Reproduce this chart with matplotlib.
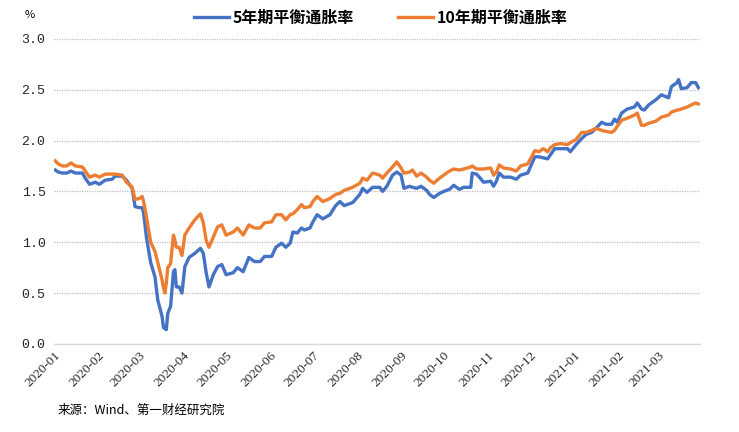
import pandas as pd
import matplotlib.pyplot as plt
import matplotlib.dates as mdates

plt.rcParams['font.family'] = ['Noto Sans CJK SC', 'DejaVu Sans']
plt.rcParams['axes.unicode_minus'] = False

# =========================
# 数据
# =========================
dates = [
    "2020-01-02", "2020-01-04", "2020-01-07", "2020-01-10", "2020-01-13", "2020-01-16",
    "2020-01-21", "2020-01-23", "2020-01-26", "2020-01-30", "2020-02-02", "2020-02-06",
    "2020-02-11", "2020-02-13", "2020-02-18", "2020-02-21", "2020-02-25", "2020-02-27",
    "2020-03-01", "2020-03-03", "2020-03-04", "2020-03-06", "2020-03-09", "2020-03-12",
    "2020-03-14", "2020-03-17", "2020-03-18", "2020-03-19", "2020-03-20", "2020-03-21",
    "2020-03-23", "2020-03-25", "2020-03-26", "2020-03-27", "2020-03-29", "2020-03-31",
    "2020-04-02", "2020-04-05", "2020-04-09", "2020-04-13", "2020-04-15", "2020-04-17",
    "2020-04-19", "2020-04-22", "2020-04-25", "2020-04-28", "2020-05-01", "2020-05-06",
    "2020-05-09", "2020-05-13", "2020-05-17", "2020-05-21", "2020-05-25", "2020-05-28",
    "2020-06-02", "2020-06-05", "2020-06-09", "2020-06-12", "2020-06-15", "2020-06-17",
    "2020-06-20", "2020-06-23", "2020-06-25", "2020-06-29", "2020-07-01", "2020-07-04",
    "2020-07-08", "2020-07-13", "2020-07-17", "2020-07-20", "2020-07-23", "2020-07-29",
    "2020-08-03", "2020-08-05", "2020-08-08", "2020-08-12", "2020-08-17", "2020-08-19",
    "2020-08-22", "2020-08-26", "2020-08-29", "2020-09-01", "2020-09-03", "2020-09-07",
    "2020-09-09", "2020-09-12", "2020-09-15", "2020-09-19", "2020-09-21", "2020-09-24",
    "2020-09-28", "2020-10-01", "2020-10-05", "2020-10-08", "2020-10-12", "2020-10-15",
    "2020-10-20", "2020-10-21", "2020-10-24", "2020-10-26", "2020-10-29", "2020-11-03",
    "2020-11-05", "2020-11-07", "2020-11-09", "2020-11-12", "2020-11-17", "2020-11-21",
    "2020-11-24", "2020-11-29", "2020-12-04", "2020-12-07", "2020-12-10", "2020-12-13",
    "2020-12-15", "2020-12-18", "2020-12-22", "2020-12-27", "2020-12-29", "2021-01-02",
    "2021-01-06", "2021-01-09", "2021-01-13", "2021-01-16", "2021-01-20", "2021-01-23",
    "2021-01-27", "2021-01-29", "2021-01-31", "2021-02-03", "2021-02-07", "2021-02-12",
    "2021-02-14", "2021-02-17", "2021-02-19", "2021-02-22", "2021-02-27", "2021-03-03",
    "2021-03-08", "2021-03-10", "2021-03-14", "2021-03-15", "2021-03-17", "2021-03-21",
    "2021-03-24", "2021-03-27", "2021-03-29",
]

inf_5y = [
    1.71, 1.69, 1.68, 1.68, 1.70, 1.68, 1.68, 1.63, 1.57, 1.59, 1.57, 1.61,
    1.62, 1.65, 1.65, 1.61, 1.53, 1.35, 1.34, 1.34, 1.29, 1.05, 0.80, 0.66,
    0.43, 0.27, 0.16, 0.15, 0.14, 0.30, 0.37, 0.71, 0.73, 0.56, 0.56, 0.50,
    0.76, 0.85, 0.89, 0.94, 0.89, 0.70, 0.56, 0.68, 0.76, 0.78, 0.68, 0.70,
    0.75, 0.71, 0.85, 0.81, 0.81, 0.86, 0.86, 0.95, 0.99, 0.95, 0.99, 1.10,
    1.09, 1.14, 1.12, 1.14, 1.20, 1.27, 1.23, 1.27, 1.36, 1.40, 1.36, 1.39,
    1.47, 1.53, 1.49, 1.54, 1.54, 1.50, 1.55, 1.66, 1.69, 1.66, 1.53, 1.55,
    1.54, 1.53, 1.55, 1.51, 1.47, 1.44, 1.48, 1.50, 1.52, 1.56, 1.52, 1.54,
    1.54, 1.68, 1.67, 1.64, 1.59, 1.60, 1.55, 1.60, 1.68, 1.64, 1.64, 1.62,
    1.66, 1.68, 1.84, 1.84, 1.83, 1.82, 1.86, 1.92, 1.92, 1.92, 1.89, 1.96,
    2.02, 2.06, 2.08, 2.12, 2.18, 2.16, 2.16, 2.21, 2.18, 2.27, 2.31, 2.33,
    2.37, 2.31, 2.30, 2.35, 2.40, 2.45, 2.42, 2.53, 2.57, 2.60, 2.51, 2.52,
    2.57, 2.57, 2.52,
]

inf_10y = [
    1.80, 1.77, 1.75, 1.75, 1.78, 1.75, 1.74, 1.70, 1.64, 1.66, 1.64, 1.67,
    1.67, 1.67, 1.66, 1.59, 1.54, 1.42, 1.43, 1.45, 1.40, 1.25, 1.00, 0.91,
    0.80, 0.63, 0.55, 0.50, 0.60, 0.75, 0.79, 1.07, 1.02, 0.95, 0.95, 0.87,
    1.07, 1.14, 1.22, 1.28, 1.19, 1.02, 0.95, 1.05, 1.15, 1.17, 1.07, 1.10,
    1.14, 1.07, 1.17, 1.14, 1.14, 1.19, 1.20, 1.27, 1.27, 1.22, 1.27, 1.28,
    1.32, 1.37, 1.34, 1.35, 1.40, 1.45, 1.40, 1.43, 1.47, 1.48, 1.51, 1.54,
    1.58, 1.63, 1.61, 1.68, 1.66, 1.63, 1.68, 1.74, 1.79, 1.73, 1.68, 1.69,
    1.71, 1.65, 1.68, 1.64, 1.61, 1.58, 1.63, 1.66, 1.70, 1.72, 1.71, 1.72,
    1.74, 1.75, 1.72, 1.72, 1.72, 1.73, 1.66, 1.69, 1.76, 1.73, 1.72, 1.70,
    1.75, 1.77, 1.90, 1.89, 1.92, 1.89, 1.93, 1.96, 1.97, 1.96, 1.98, 2.01,
    2.08, 2.08, 2.10, 2.12, 2.10, 2.09, 2.08, 2.10, 2.14, 2.20, 2.22, 2.25,
    2.27, 2.15, 2.15, 2.17, 2.19, 2.23, 2.25, 2.28, 2.30, 2.30, 2.31, 2.33,
    2.35, 2.37, 2.36,
]

label_5y = "5年期平衡通胀率"
label_10y = "10年期平衡通胀率"
source = "来源：Wind、第一财经研究院"
y_ticks = [0.0, 0.5, 1.0, 1.5, 2.0, 2.5, 3.0]

df = pd.DataFrame({"date": pd.to_datetime(dates), "y5": inf_5y, "y10": inf_10y})

# =========================
# 画图
# =========================
fig = plt.figure(figsize=(7.39, 4.32), dpi=100)
ax = fig.add_axes([0.073, 0.204, 0.874, 0.706])

ax.plot(df["date"], df["y5"], color="#4472C4", lw=2.4, label=label_5y, zorder=3)
ax.plot(df["date"], df["y10"], color="#ED7D31", lw=2.4, label=label_10y, zorder=3)

ax.set_ylim(0, 3.0)
ax.set_yticks(y_ticks)
ax.set_yticklabels([f"{v:.1f}" for v in y_ticks], family=["Liberation Mono", "DejaVu Sans Mono"], fontsize=9.5)
ax.set_xlim(pd.Timestamp("2020-01-01"), pd.Timestamp("2021-03-30"))
ax.xaxis.set_major_locator(mdates.MonthLocator())
ax.xaxis.set_major_formatter(mdates.DateFormatter("%Y-%m"))
for lbl in ax.get_xticklabels():
    lbl.set_rotation(45)
    lbl.set_ha("right")
    lbl.set_rotation_mode("anchor")
    lbl.set_family(["Liberation Serif", "DejaVu Serif"])
    lbl.set_fontsize(9.5)

ax.grid(axis="y", color="#BFBFBF", linestyle=(0, (1, 1)), lw=0.9)
ax.set_axisbelow(True)
for s in ["top", "right", "left"]:
    ax.spines[s].set_visible(False)
ax.spines["bottom"].set_color("#D9D9D9")
ax.spines["bottom"].set_linewidth(1.0)
ax.tick_params(axis="both", length=0, pad=6, colors="#262626")
ax.tick_params(axis="x", pad=4)

fig.legend(loc="upper center", bbox_to_anchor=(0.515, 1.01), ncol=2, frameon=False,
           prop={"family": ["Noto Sans CJK SC"], "weight": "bold", "size": 11.5},
           handlelength=2.2, columnspacing=2.8, handletextpad=0.2)

fig.text(0.040, 0.965, "%", fontsize=8, ha="center", va="center")
fig.text(0.078, 0.05, source, fontsize=9, ha="left", va="center",
         family=["Noto Sans CJK SC", "DejaVu Sans"])

fig.savefig("out.png", dpi=100)
